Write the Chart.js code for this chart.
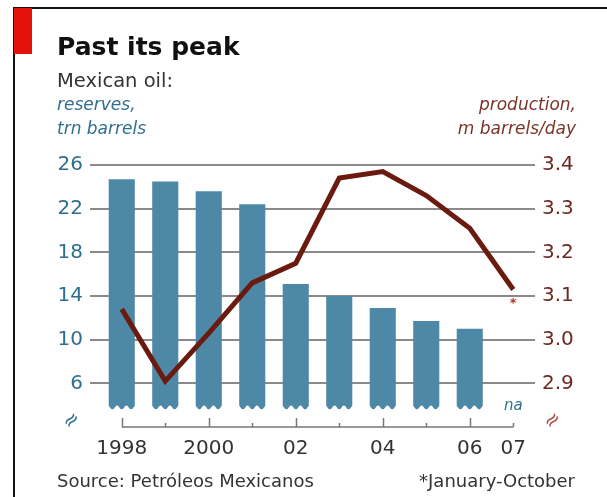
<!DOCTYPE html>
<html lang="en">
<head>
  <meta charset="UTF-8">
  <title>Past its peak</title>
  <script src="https://cdn.jsdelivr.net/npm/chart.js"></script>
  <style>
    body { margin: 0; background: #fff; font-family: "DejaVu Sans", sans-serif; }
    #wrap { position: relative; width: 607px; height: 497px; overflow: hidden; }
    #frame { position: absolute; left: 13px; top: 7px; right: 0; bottom: 0; border-left: 2px solid #111; border-top: 2px solid #111; }
    #flag { position: absolute; left: 14px; top: 8px; width: 18px; height: 46px; background: #e3120b; }
    canvas { position: absolute; left: 0; top: 0; }
    .txt { position: absolute; white-space: nowrap; line-height: 1; }
    .title { left: 57px; top: 34px; font-size: 25px; font-weight: bold; color: #111; }
    .sub { left: 57px; top: 71px; font-size: 19.5px; color: #333; }
    .unit { font-size: 17px; font-style: italic; }
    .left { left: 57px; color: #2f6f8e; }
    .right { right: 31px; text-align: right; color: #7a3328; }
    .foot { top: 472px; font-size: 18px; color: #333; }
  </style>
</head>
<body>
  <div id="wrap">
    <div id="frame"></div>
    <div id="flag"></div>
    <canvas id="oilChart" width="607" height="497"></canvas>
    <div class="txt title">Past its peak</div>
    <div class="txt sub">Mexican oil:</div>
    <div class="txt unit left" style="top:96px">reserves,</div>
    <div class="txt unit left" style="top:120px">trn barrels</div>
    <div class="txt unit right" style="top:96px">production,</div>
    <div class="txt unit right" style="top:120px">m barrels/day</div>
    <div class="txt foot" style="left:57px">Source: Petróleos Mexicanos</div>
    <div class="txt foot" style="right:32px">*January-October</div>
  </div>

  <script>
    // data
    const years = ['1998', '1999', '2000', '2001', '2002', '2003', '2004', '2005', '2006', '2007'];
    const yearLabels = ['1998', '', '2000', '', '02', '', '04', '', '06', '07'];
    const reserves = [24.7, 24.5, 23.6, 22.4, 15.1, 14.0, 12.9, 11.7, 11.0, null];
    const production = [3.07, 2.905, 3.015, 3.13, 3.175, 3.37, 3.385, 3.33, 3.255, 3.115];
    const reserveTicks = [6, 10, 14, 18, 22, 26];
    const productionTicks = [2.9, 3.0, 3.1, 3.2, 3.3, 3.4];

    const teal = '#2f6f8e';
    const brown = '#6b2a22';

    const extras = {
      id: 'extras',
      afterDatasetsDraw(chart) {
        const ctx = chart.ctx;
        const x = chart.scales.x;
        const area = chart.chartArea;

        // wavy cut at bar bottoms
        chart.getDatasetMeta(0).data.forEach(bar => {
          if (bar.skip) return;
          const l = bar.x - bar.width / 2 - 1, r = bar.x + bar.width / 2 + 1, b = bar.base;
          ctx.save();
          ctx.fillStyle = '#fff';
          ctx.beginPath();
          ctx.moveTo(l, b + 2);
          for (let i = 0; i <= 24; i++) {
            const px = l + (r - l) * i / 24;
            ctx.lineTo(px, b - 2 - 2 * Math.cos(i / 24 * Math.PI * 6));
          }
          ctx.lineTo(r, b + 2);
          ctx.closePath();
          ctx.fill();
          ctx.restore();
        });

        // x axis line with upward ticks
        const y0 = area.bottom;
        ctx.save();
        ctx.strokeStyle = '#777';
        ctx.lineWidth = 1.5;
        ctx.beginPath();
        ctx.moveTo(x.getPixelForValue(0), y0);
        ctx.lineTo(x.getPixelForValue(years.length - 1), y0);
        years.forEach((yr, i) => {
          const px = Math.round(x.getPixelForValue(i)) + 0.5;
          const len = yearLabels[i] && i < years.length - 1 ? 9 : 4;
          ctx.moveTo(px, y0);
          ctx.lineTo(px, y0 - len);
        });
        ctx.stroke();

        // na for 2007
        ctx.font = 'italic 15px "DejaVu Sans"';
        ctx.fillStyle = teal;
        ctx.textAlign = 'center';
        ctx.textBaseline = 'middle';
        ctx.fillText('na', x.getPixelForValue(years.length - 1), y0 - 21);

        // asterisk at 2007 production point
        const last = chart.getDatasetMeta(1).data[years.length - 1];
        ctx.font = 'bold 13px "DejaVu Sans"';
        ctx.fillStyle = '#b0352a';
        ctx.fillText('*', last.x, last.y + 14);

        // axis break marks
        ctx.font = '20px "DejaVu Sans"';
        [[area.left - 28, teal], [area.right + 18, '#b04a40']].forEach(([bx, col]) => {
          ctx.save();
          ctx.translate(bx, y0 - 6);
          ctx.rotate(-Math.PI / 4);
          ctx.fillStyle = col;
          ctx.fillText('≈', 0, 0);
          ctx.restore();
        });
        ctx.restore();
      }
    };

    new Chart(document.getElementById('oilChart'), {
      data: {
        labels: years,
        datasets: [{
          type: 'bar',
          data: reserves,
          yAxisID: 'yL',
          base: 3.6,
          backgroundColor: '#4e88a7',
          barPercentage: 0.6,
          categoryPercentage: 1,
          order: 2
        }, {
          type: 'line',
          data: production,
          yAxisID: 'yR',
          borderColor: '#6a1a0e',
          borderWidth: 5,
          pointRadius: 0,
          tension: 0,
          order: 1
        }]
      },
      options: {
        responsive: false,
        animation: false,
        devicePixelRatio: 1,
        layout: { padding: { top: 165, bottom: 0, left: 0, right: 0 } },
        plugins: { legend: { display: false }, tooltip: { enabled: false } },
        scales: {
          x: {
            grid: { display: false, drawTicks: false },
            border: { display: false },
            ticks: {
              color: '#333',
              font: { family: 'DejaVu Sans', size: 20 },
              padding: 10,
              maxRotation: 0,
              autoSkip: false,
              callback: (v, i) => yearLabels[i]
            },
            afterFit: s => { s.height = 70; }
          },
          yL: {
            position: 'left',
            min: 2,
            max: 26,
            afterBuildTicks: s => { s.ticks = reserveTicks.map(v => ({ value: v })); },
            grid: { color: '#8a8a8a', lineWidth: 2, tickLength: 10 },
            border: { display: false },
            ticks: { color: teal, font: { family: 'DejaVu Sans', size: 20 }, padding: 7 },
            afterFit: s => { s.width = 100; }
          },
          yR: {
            position: 'right',
            min: 2.8,
            max: 3.4,
            afterBuildTicks: s => { s.ticks = productionTicks.map(v => ({ value: v })); },
            grid: { display: false, drawTicks: false },
            border: { display: false },
            ticks: {
              color: brown,
              font: { family: 'DejaVu Sans', size: 20 },
              padding: 7,
              callback: v => v.toFixed(1)
            },
            afterFit: s => { s.width = 72; }
          }
        }
      },
      plugins: [extras]
    });
  </script>
</body>
</html>
